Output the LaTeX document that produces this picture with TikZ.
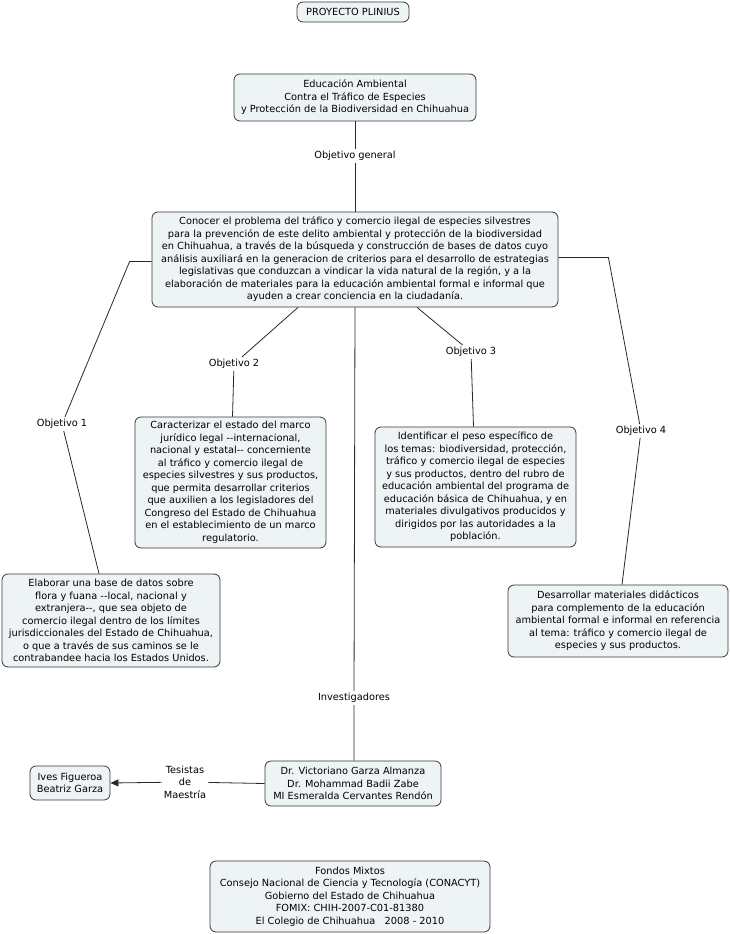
\documentclass[tikz,border=0pt]{standalone}
\usepackage{fontspec}
\setmainfont{DejaVu Sans}
\usetikzlibrary{calc,arrows.meta}
\definecolor{boxfill}{RGB}{238,244,246}
\definecolor{boxline}{RGB}{55,55,55}
\definecolor{linkcol}{RGB}{40,40,40}
\tikzset{
  concept/.style={draw=boxline, fill=boxfill, rounded corners=6pt, line width=0.8pt,
    align=center, inner sep=2pt, font=\fontsize{9.8}{12.5}\selectfont},
  linklabel/.style={align=center, inner sep=2pt, font=\fontsize{9.8}{12.5}\selectfont},
  link/.style={draw=linkcol, line width=0.8pt}
}
\begin{document}
\begin{tikzpicture}[x=1pt,y=-1pt]
\useasboundingbox (0,0) rectangle (730,934);

\node[concept, minimum width=112, minimum height=20] (plin) at (353,12) {PROYECTO PLINIUS};

\node[concept, minimum width=242, minimum height=47] (edu) at (355,97.5)
  {Educación Ambiental\\Contra el Tráfico de Especies\\y Protección de la Biodiversidad en Chihuahua};

\node[linklabel] (objg) at (355,156) {Objetivo general};

\node[concept, minimum width=406, minimum height=95] (main) at (355,259.5)
  {Conocer el problema del tráfico y comercio ilegal de especies silvestres\\
   para la prevención de este delito ambiental y protección de la biodiversidad\\
   en Chihuahua, a través de la búsqueda y construcción de bases de datos cuyo\\
   análisis auxiliará en la generacion de criterios para el desarrollo de estrategias\\
   legislativas que conduzcan a vindicar la vida natural de la región, y a la\\
   elaboración de materiales para la educación ambiental formal e informal que\\
   ayuden a crear conciencia en la ciudadanía.};

\node[linklabel] (obj1) at (62,424) {Objetivo 1};
\node[linklabel] (obj2) at (234,364) {Objetivo 2};
\node[linklabel] (obj3) at (471,352) {Objetivo 3};
\node[linklabel] (obj4) at (641,431) {Objetivo 4};

\node[concept, minimum width=191, minimum height=131] (b2) at (230.5,482.5)
  {Caracterizar el estado del marco\\jurídico legal -{}-internacional,\\nacional y estatal-{}- concerniente\\al tráfico y comercio ilegal de\\especies silvestres y sus productos,\\que permita desarrollar criterios\\que auxilien a los legisladores del\\Congreso del Estado de Chihuahua\\en el establecimiento de un marco\\regulatorio.};

\node[concept, minimum width=201, minimum height=120] (b3) at (475.5,487)
  {Identificar el peso específico de\\los temas: biodiversidad, protección,\\tráfico y comercio ilegal de especies\\y sus productos, dentro del rubro de\\educación ambiental del programa de\\educación básica de Chihuahua, y en\\materiales divulgativos producidos y\\dirigidos por las autoridades a la\\población.};

\node[concept, minimum width=218, minimum height=93] (b1) at (111,620.5)
  {Elaborar una base de datos sobre\\flora y fuana -{}-local, nacional y\\extranjera-{}-, que sea objeto de\\comercio ilegal dentro de los límites\\jurisdiccionales del Estado de Chihuahua,\\o que a través de sus caminos se le\\contrabandee hacia los Estados Unidos.};

\node[concept, minimum width=220, minimum height=72] (b4) at (618,621)
  {Desarrollar materiales didácticos\\para complemento de la educación\\ambiental formal e informal en referencia\\al tema: tráfico y comercio ilegal de\\especies y sus productos.};

\node[linklabel] (inv) at (354,698) {Investigadores};

\node[concept, minimum width=176, minimum height=45] (invb) at (353,783.5)
  {Dr. Victoriano Garza Almanza\\Dr. Mohammad Badii Zabe\\MI Esmeralda Cervantes Rendón};

\node[linklabel] (tes) at (185,782) {Tesistas\\de\\Maestría};

\node[concept, minimum width=80, minimum height=34] (ives) at (70,783)
  {Ives Figueroa\\Beatriz Garza};

\node[concept, minimum width=280, minimum height=71] (fond) at (350,896.5)
  {Fondos Mixtos\\Consejo Nacional de Ciencia y Tecnología (CONACYT)\\Gobierno del Estado de Chihuahua\\FOMIX: CHIH-2007-C01-81380\\El Colegio de Chihuahua \ \ 2008 - 2010};

% connectors
\draw[link] (edu.south) -- (objg) -- (main.north);
\draw[link] ($(main.west)+(0,2)$) -- ++(-22,0) -- (obj1) -- ($(b1.north)+(-12,0)$);
\draw[link] ($(main.south)+(-57,0)$) -- (obj2) -- ($(b2.north)+(2,0)$);
\draw[link] ($(main.south)+(62,0)$) -- (obj3) -- ($(b3.north)+(-2,0)$);
\draw[link] ($(main.east)+(0,-2)$) -- ++(50,0) -- (obj4) -- ($(b4.north)+(4,0)$);
\draw[link] (main.south) -- (inv) -- ($(invb.north)+(1,0)$);
\draw[link] (invb.west) -- (tes);
\draw[link, -{Triangle[length=8pt,width=7pt]}] (tes) -- (ives.east);
\end{tikzpicture}
\end{document}
